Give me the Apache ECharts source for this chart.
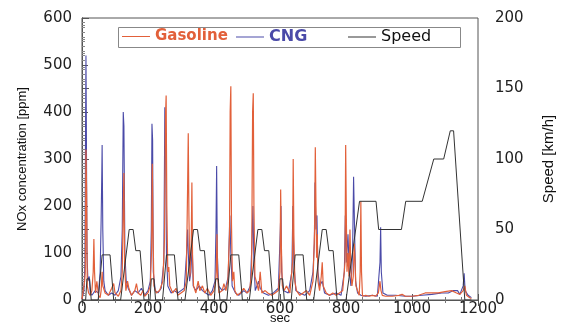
<!DOCTYPE html>
<html><head><meta charset="utf-8">
<script src="https://cdn.jsdelivr.net/npm/echarts@6/dist/echarts.min.js"></script>
<style>html,body{margin:0;padding:0;background:#fff}#c{width:562px;height:323px}</style>
</head><body><div id="c"></div>
<script>
const xTicks = [0, 200, 400, 600, 800, 1000, 1200];
const leftTicks = [0, 100, 200, 300, 400, 500, 600];
const rightTicks = [0, 50, 100, 150, 200];

const gasT = [0,5,8,10,12,14,16,20,25,30,34,36,38,41,45,50,55,58,61,63,70,80,90,96,100,110,118,122,125,127,129,133,138,142,150,160,165,170,178,185,190,200,207,211,213,215,218,225,235,245,250,253,255,257,260,263,266,275,285,290,300,310,316,320,322,324,327,331,333,335,338,345,352,357,365,372,380,390,400,405,407,409,411,415,425,430,436,442,447,449,451,453,456,460,463,470,480,490,500,508,514,517,519,521,524,528,535,540,545,555,563,575,585,595,600,602,604,607,612,620,630,638,640,642,645,650,660,670,680,690,700,705,707,709,711,713,715,720,725,728,731,740,750,760,770,780,790,797,799,801,803,806,809,812,815,818,822,825,827,830,835,840,843,845,847,850,860,870,880,890,898,903,906,910,920,940,960,970,980,1000,1020,1040,1060,1080,1100,1120,1135,1145,1155,1160,1165,1175,1180];
const gasNOx = [2,5,40,60,320,230,30,15,10,20,60,130,60,15,40,10,5,20,60,30,15,10,25,35,15,8,20,60,200,270,80,20,40,25,10,20,35,15,10,20,8,15,30,110,290,150,30,15,20,40,130,390,435,200,60,70,30,15,25,10,15,20,40,240,355,180,50,120,250,90,30,15,40,20,30,15,25,10,20,40,60,140,50,15,20,35,20,40,140,400,455,160,40,60,20,10,15,25,15,20,60,400,440,200,50,40,20,60,15,20,15,10,15,20,60,235,120,30,20,30,15,80,300,140,40,20,10,15,20,10,40,150,325,200,90,140,40,20,50,80,30,15,10,15,10,15,20,80,330,180,60,100,50,150,60,30,50,120,90,30,20,10,60,210,60,8,10,8,10,8,15,40,20,10,8,8,10,12,8,8,10,15,15,15,18,20,15,12,20,30,10,5,3];

const cngT = [0,6,9,11,12,13,15,18,22,25,30,40,50,55,58,60,61,63,66,70,80,90,100,110,118,122,125,127,130,134,140,150,160,170,180,190,200,207,210,212,214,216,222,230,240,248,251,253,256,260,270,280,290,300,310,317,320,322,326,330,334,337,345,355,365,375,385,395,403,406,408,410,414,425,435,443,448,451,455,465,475,490,500,510,515,518,521,525,535,540,550,565,580,595,601,603,605,610,625,636,639,642,648,660,675,690,700,704,706,709,712,715,720,728,735,750,770,785,795,798,801,806,810,815,820,823,826,829,835,845,860,880,895,903,905,907,912,925,950,980,1000,1030,1060,1090,1110,1125,1138,1145,1150,1155,1158,1161,1170,1180];
const cngNOx = [2,20,80,400,520,400,100,40,50,15,10,20,15,60,170,270,330,150,40,20,10,15,10,20,50,150,400,370,100,40,25,10,20,15,25,10,20,40,150,375,340,60,20,15,25,80,410,380,100,30,15,20,15,20,25,100,150,100,40,60,120,30,20,30,20,15,10,20,40,150,285,100,30,20,25,50,180,100,30,15,10,20,15,30,120,200,80,20,40,25,15,10,15,25,150,200,60,20,15,60,200,80,20,15,10,20,60,120,250,150,180,60,30,40,15,10,15,10,60,180,80,140,60,30,100,262,150,40,15,10,8,10,8,80,155,60,15,10,10,8,8,10,12,15,15,20,20,12,10,30,57,20,10,5];

const speedT = [0,11,15,23,28,49,61,85,96,117,143,155,163,176,188,195,206,210,218,223,244,256,280,291,312,338,350,358,371,383,390,401,405,413,418,439,451,475,486,507,533,545,553,566,578,585,596,600,608,613,634,646,670,681,702,728,740,748,761,773,780,800,841,891,899,968,981,1031,1066,1096,1116,1126,1160,1180];
const speedKmh = [0,0,15,15,0,0,32,32,0,0,50,50,35,35,0,0,0,15,15,0,0,32,32,0,0,50,50,35,35,0,0,0,15,15,0,0,32,32,0,0,50,50,35,35,0,0,0,15,15,0,0,32,32,0,0,50,50,35,35,0,0,0,70,70,50,50,70,70,100,100,120,120,0,0];

const pair = (t, v) => t.map((x, i) => [x, v[i]]);
const TICKFONT = 'DejaVu Sans';
const NAMEFONT = 'Liberation Sans';
const GAS = '#e2603a', CNG = '#4a4aa8', SPD = '#333333';

const chart = echarts.init(document.getElementById('c'), null, {renderer: 'canvas'});
const axLine = {show: true, lineStyle: {color: '#555', width: 1}};
const mkLegend = (left, name, color, weight, size) => ({
  left: left, top: 29, padding: 0, itemGap: 0, selectedMode: false,
  itemWidth: 28, itemHeight: 1, icon: 'rect',
  textStyle: {fontFamily: TICKFONT, fontSize: size, color: color, fontWeight: weight},
  data: [name]
});
chart.setOption({
  animation: false,
  backgroundColor: '#fff',
  grid: {left: 82, right: 84, top: 18, bottom: 23, show: true, borderColor: '#555', borderWidth: 1,
         containLabel: false, outerBoundsMode: 'none'},
  legend: [
    mkLegend(122, 'Gasoline', GAS, 'bold', 15),
    mkLegend(236, 'CNG', CNG, 'bold', 16),
    mkLegend(348, 'Speed', '#111', 'normal', 16)
  ],
  xAxis: [{
    type: 'value', min: 0, max: 1200, interval: 200, position: 'bottom',
    name: 'sec', nameLocation: 'middle', nameGap: 12, nameMoveOverlap: false,
    nameTextStyle: {fontFamily: NAMEFONT, fontSize: 13, color: '#111'},
    axisLine: axLine, splitLine: {show: false},
    axisTick: {inside: true, length: 6, lineStyle: {color: '#555'}},
    minorTick: {show: true, splitNumber: 4, length: 3, lineStyle: {color: '#777'}},
    axisLabel: {fontFamily: TICKFONT, fontSize: 15, color: '#222', margin: 2,
      formatter: v => xTicks.includes(v) ? String(v) : ''}
  }, {
    type: 'value', min: 0, max: 1200, interval: 200, position: 'top',
    axisLine: axLine, splitLine: {show: false}, axisLabel: {show: false},
    axisTick: {show: true, inside: true, length: 6, lineStyle: {color: '#555'}},
    minorTick: {show: true, splitNumber: 4, length: 3, lineStyle: {color: '#777'}}
  }],
  yAxis: [{
    type: 'value', min: 0, max: 600, interval: 100, position: 'left',
    name: 'NOx concentration [ppm]', nameLocation: 'middle', nameGap: 53, nameRotate: 90,
    nameMoveOverlap: false,
    nameTextStyle: {fontFamily: NAMEFONT, fontSize: 13, color: '#111'},
    axisLine: axLine, splitLine: {show: false},
    axisTick: {inside: true, length: 6, lineStyle: {color: '#555'}},
    minorTick: {show: true, splitNumber: 10, length: 3, lineStyle: {color: '#888'}},
    axisLabel: {fontFamily: TICKFONT, fontSize: 15, color: '#222', margin: 10,
      formatter: v => leftTicks.includes(v) ? String(v) : ''}
  }, {
    type: 'value', min: 0, max: 200, interval: 50, position: 'right', offset: 5,
    name: 'Speed [km/h]', nameLocation: 'middle', nameGap: 58, nameRotate: 90,
    nameMoveOverlap: false,
    nameTextStyle: {fontFamily: NAMEFONT, fontSize: 15, color: '#111'},
    axisLine: axLine, splitLine: {show: false},
    axisTick: {inside: false, length: 7, lineStyle: {color: '#555'}},
    minorTick: {show: true, splitNumber: 10, length: 3, lineStyle: {color: '#888'}},
    axisLabel: {fontFamily: TICKFONT, fontSize: 15, color: '#222', margin: 12,
      formatter: v => rightTicks.includes(v) ? String(v) : ''}
  }],
  series: [
    {name: 'Gasoline', type: 'line', xAxisIndex: 0, yAxisIndex: 0, showSymbol: false, symbol: 'none',
      lineStyle: {color: GAS, width: 1.2}, itemStyle: {color: GAS}, data: pair(gasT, gasNOx), z: 3},
    {name: 'CNG', type: 'line', xAxisIndex: 0, yAxisIndex: 0, showSymbol: false, symbol: 'none',
      lineStyle: {color: CNG, width: 1.1}, itemStyle: {color: CNG}, data: pair(cngT, cngNOx), z: 2},
    {name: 'Speed', type: 'line', xAxisIndex: 0, yAxisIndex: 1, showSymbol: false, symbol: 'none',
      lineStyle: {color: SPD, width: 1}, itemStyle: {color: SPD}, data: pair(speedT, speedKmh), z: 4},
    {name: 'topAxis', type: 'line', xAxisIndex: 1, yAxisIndex: 0, symbol: 'none', silent: true,
      lineStyle: {opacity: 0}, data: [[0, 0], [1200, 0]], z: 0}
  ],
  graphic: [{type: 'rect', shape: {x: 118.5, y: 27.5, width: 342, height: 20},
             style: {fill: null, stroke: '#888', lineWidth: 1}, z: 10}]
});
</script></body></html>
